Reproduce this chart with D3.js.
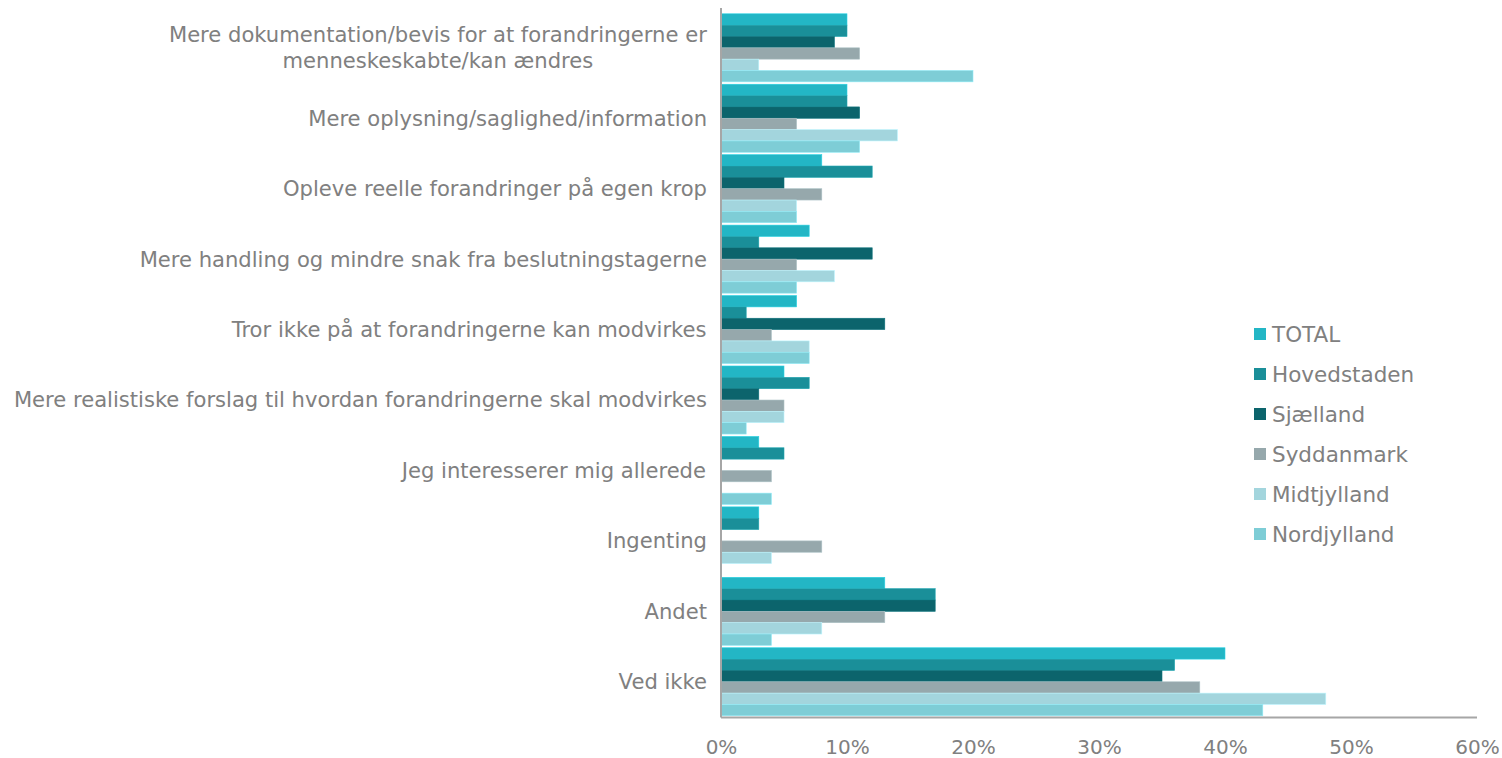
<!DOCTYPE html>
<html>
<head>
<meta charset="utf-8">
<script src="https://cdn.jsdelivr.net/npm/d3@7"></script>
<style>
  body { margin: 0; background: #fff; }
  svg text { font-family: "DejaVu Sans", sans-serif; fill: #808080; }
</style>
</head>
<body>
<div id="chart"></div>
<script>
// categories, top to bottom
var categories = [
  "Mere dokumentation/bevis for at forandringerne er|menneskeskabte/kan ændres",
  "Mere oplysning/saglighed/information",
  "Opleve reelle forandringer på egen krop",
  "Mere handling og mindre snak fra beslutningstagerne",
  "Tror ikke på at forandringerne kan modvirkes",
  "Mere realistiske forslag til hvordan forandringerne skal modvirkes",
  "Jeg interesserer mig allerede",
  "Ingenting",
  "Andet",
  "Ved ikke"
];
var seriesNames = ["TOTAL", "Hovedstaden", "Sjælland", "Syddanmark", "Midtjylland", "Nordjylland"];
var seriesColors = ["#23B6C5", "#1A8F99", "#0C646C", "#96A8AC", "#A3D5DD", "#7ECDD6"];

var total       = [10, 10, 8, 7, 6, 5, 3, 3, 13, 40];
var hovedstaden = [10, 10, 12, 3, 2, 7, 5, 3, 17, 36];
var sjaelland   = [9, 11, 5, 12, 13, 3, 0, 0, 17, 35];
var syddanmark  = [11, 6, 8, 6, 4, 5, 4, 8, 13, 38];
var midtjylland = [3, 14, 6, 9, 7, 5, 0, 4, 8, 48];
var nordjylland = [20, 11, 6, 6, 7, 2, 4, 0, 4, 43];
var seriesValues = [total, hovedstaden, sjaelland, syddanmark, midtjylland, nordjylland];

var xTicks = [0, 10, 20, 30, 40, 50, 60];

var width = 1502, height = 758;
var margin = {top: 12.6, right: 25, bottom: 41, left: 721};

var svg = d3.select("#chart").append("svg")
  .attr("width", width)
  .attr("height", height);

var xScale = d3.scaleLinear().domain([0, 60]).range([margin.left, 1477]);
var yScale = d3.scaleBand().domain(categories)
  .range([margin.top, height - margin.bottom])
  .paddingInner(0.034).paddingOuter(0.017);
var inner = d3.scaleBand().domain(seriesNames).range([0, yScale.bandwidth()]);

// bars
seriesNames.forEach(function(name, s) {
  svg.append("g")
    .selectAll("rect")
    .data(seriesValues[s])
    .enter().append("rect")
      .attr("x", xScale(0))
      .attr("y", function(d, i) { return yScale(categories[i]) + inner(name); })
      .attr("width", function(d) { return xScale(d) - xScale(0); })
      .attr("height", inner.bandwidth())
      .style("fill", seriesColors[s])
      .style("stroke", d3.color(seriesColors[s]).brighter(0.4))
      .style("stroke-width", 0.6)
      .style("display", function(d) { return d > 0 ? null : "none"; });
});

// axes
var yBottom = height - margin.bottom + 0.5;
svg.append("line")
  .attr("x1", xScale(0)).attr("x2", xScale(0))
  .attr("y1", 8).attr("y2", yBottom)
  .style("stroke", "#A6A6A6").style("stroke-width", 2);
svg.append("line")
  .attr("x1", xScale(0)).attr("x2", xScale(60))
  .attr("y1", yBottom).attr("y2", yBottom)
  .style("stroke", "#A6A6A6").style("stroke-width", 2);

var x_axis = d3.axisBottom(xScale).tickValues(xTicks)
  .tickFormat(function(d) { return d + "%"; }).tickSize(0).tickPadding(0);
var axG = svg.append("g")
  .attr("transform", "translate(0," + 754 + ")")
  .call(x_axis);
axG.select(".domain").remove();
axG.selectAll("text")
  .attr("dy", 0)
  .style("font-size", "20px")
  .style("fill", "#808080");

// category labels
var labelRight = 707;
var fontSize = 21.1;
categories.forEach(function(c) {
  var lines = c.split("|");
  var cy = yScale(c) + yScale.bandwidth() / 2;
  var t = svg.append("text")
    .style("font-size", fontSize + "px")
    .attr("text-anchor", "middle");
  var lh = 26;
  lines.forEach(function(l, i) {
    t.append("tspan").text(l)
      .attr("x", 0)
      .attr("y", cy + (i - (lines.length - 1) / 2) * lh)
      .attr("dy", "0.35em");
  });
  // centre block, right edge at labelRight
  var w = t.node().getBBox().width;
  t.selectAll("tspan").attr("x", labelRight - w / 2);
});

// legend
var legend = svg.append("g");
seriesNames.forEach(function(name, i) {
  var ly = 334 + i * 40;
  legend.append("rect")
    .attr("x", 1254).attr("y", ly - 6)
    .attr("width", 12).attr("height", 12)
    .style("fill", seriesColors[i]);
  legend.append("text")
    .attr("x", 1272).attr("y", ly)
    .attr("dy", "0.35em")
    .style("font-size", "21.5px")
    .text(name);
});
</script>
</body>
</html>
